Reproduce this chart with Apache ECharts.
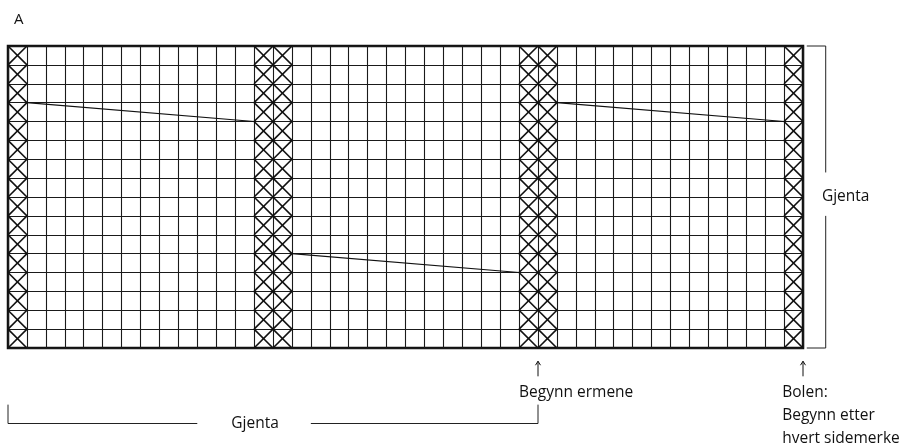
<!DOCTYPE html>
<html>
<head>
<meta charset="utf-8">
<script src="https://cdn.jsdelivr.net/npm/echarts@6/dist/echarts.min.js"></script>
<style>
html,body{margin:0;padding:0;background:#fff;}
#c{width:909px;height:447px;}
</style>
</head>
<body>
<div id="c"></div>
<script>
// ---- data ----
const nCols = 42;
const nRows = 16;
const crossColumns = [0, 13, 14, 27, 28, 41];
// diagonal lines: [fromCol, fromRowLine, toCol, toRowLine]
const diagonals = [[1, 3, 13, 4], [15, 11, 27, 12], [29, 3, 41, 4]];
const chartLabel = 'A';
const repeatLabel = 'Gjenta';
const arrowLabels = ['Begynn ermene', 'Bolen:\nBegynn etter\nhvert sidemerke'];
const arrowColumns = [28, 42];

const crossData = [];
crossColumns.forEach(c => { for (let r = 0; r < nRows; r++) crossData.push([c, r]); });

const FONT = '"Open Sans", "Noto Sans", sans-serif';
const FS = 15.5;
const chart = echarts.init(document.getElementById('c'), null, {renderer: 'canvas'});

const option = {
  animation: false,
  backgroundColor: '#fff',
  title: {text: chartLabel, left: 9, top: 7, textStyle: {fontFamily: FONT, fontSize: 15, fontWeight: 'normal', color: '#111'}},
  grid: {left: 8, top: 46, width: 795, height: 302, show: true, borderColor: '#111', borderWidth: 2.5, backgroundColor: '#fff'},
  xAxis: {type: 'value', min: 0, max: nCols, interval: 1,
    axisLine: {show: false}, axisTick: {show: false}, axisLabel: {show: false},
    splitLine: {show: true, lineStyle: {color: '#1a1a1a', width: 1.1}}},
  yAxis: {type: 'value', min: 0, max: nRows, interval: 1, inverse: true,
    axisLine: {show: false}, axisTick: {show: false}, axisLabel: {show: false},
    splitLine: {show: true, lineStyle: {color: '#1a1a1a', width: 1.1}}},
  series: [
    {
      type: 'custom', data: crossData, clip: false, silent: true,
      renderItem: (params, api) => {
        const c = api.value(0), r = api.value(1);
        const p0 = api.coord([c, r]), p1 = api.coord([c + 1, r + 1]);
        const st = {stroke: '#111', lineWidth: 1.6, fill: null};
        return {type: 'group', children: [
          {type: 'line', shape: {x1: p0[0], y1: p0[1], x2: p1[0], y2: p1[1]}, style: st},
          {type: 'line', shape: {x1: p1[0], y1: p0[1], x2: p0[0], y2: p1[1]}, style: st}
        ]};
      }
    },
    {
      type: 'custom', data: diagonals, clip: false, silent: true,
      renderItem: (params, api) => {
        const a = api.coord([api.value(0), api.value(1)]);
        const b = api.coord([api.value(2), api.value(3)]);
        return {type: 'line', shape: {x1: a[0], y1: a[1], x2: b[0], y2: b[1]}, style: {stroke: '#111', lineWidth: 1.2}};
      }
    },
    {
      // annotations: brackets, arrows and texts
      type: 'custom', data: [0], clip: false, silent: true,
      renderItem: (params, api) => {
        const P = (x, y) => api.coord([x, y]);
        const ln = (a, b, w, col) => ({type: 'line', shape: {x1: a[0], y1: a[1], x2: b[0], y2: b[1]}, style: {stroke: col || '#222', lineWidth: w || 1}});
        const txt = (p, s, align, vAlign) => ({type: 'text', x: p[0], y: p[1], style: {text: s, fontFamily: FONT, fontSize: FS, fill: '#111', align: align, verticalAlign: vAlign, lineHeight: 23.5}});
        const ch = [];
        // right bracket
        ch.push(ln(P(42.2, 0), P(43.2, 0)));
        ch.push(ln(P(42.2, nRows), P(43.2, nRows)));
        ch.push(ln(P(43.2, 0), P(43.2, 6.7)));
        ch.push(ln(P(43.2, 9.0), P(43.2, nRows)));
        ch.push(txt(P(43.0, 8.0), repeatLabel, 'left', 'middle'));
        // arrows
        arrowColumns.forEach((c, i) => {
          const top = P(c, 16.7), bot = P(c, 17.5);
          ch.push(ln(top, bot, 1, '#111'));
          ch.push({type: 'polyline', shape: {points: [[top[0] - 2.5, top[1] + 4], [top[0], top[1]], [top[0] + 2.5, top[1] + 4]]}, style: {stroke: '#111', lineWidth: 1, fill: null}});
        });
        ch.push(txt(P(27.0, 18.36), arrowLabels[0], 'left', 'middle'));
        const bl = P(40.9, 18.36);
        ch.push({type: 'text', x: bl[0], y: bl[1] - 11.75, style: {text: arrowLabels[1], fontFamily: FONT, fontSize: FS, fill: '#111', align: 'left', verticalAlign: 'top', lineHeight: 23.3}});
        // bottom bracket
        ch.push(ln(P(0, 19.0), P(0, 20.0)));
        ch.push(ln(P(0, 20.0), P(10.0, 20.0)));
        ch.push(txt(P(13.05, 20.0), repeatLabel, 'center', 'middle'));
        ch.push(ln(P(16.0, 20.0), P(28, 20.0)));
        ch.push(ln(P(28, 19.0), P(28, 20.0)));
        return {type: 'group', children: ch};
      }
    }
  ]
};
chart.setOption(option);
</script>
</body>
</html>
